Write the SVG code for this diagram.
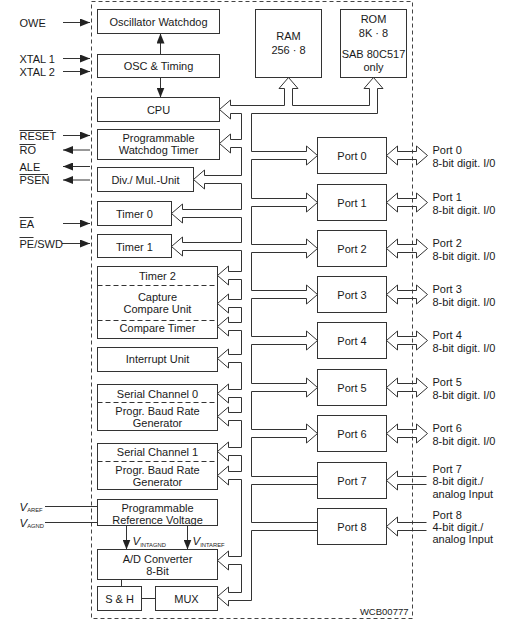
<svg xmlns="http://www.w3.org/2000/svg" width="510" height="628" viewBox="0 0 510 628">
<style>
.box{fill:#fff;stroke:#333;stroke-width:1}
.t{font-family:"Liberation Sans",Arial,Helvetica,sans-serif;font-size:11px;fill:#1a1a1a}
.c{text-anchor:middle}
.sm{font-size:9.5px}
.vi{font-style:italic;font-size:11.5px}
.sub{font-size:5.8px}
.ln{fill:none;stroke:#333;stroke-width:1}
.dash{fill:none;stroke:#333;stroke-width:1;stroke-dasharray:5 3}
.frame{fill:none;stroke:#444;stroke-width:1;stroke-dasharray:4 3}
.sig{fill:none;stroke:#333;stroke-width:1;marker-end:url(#ah)}
</style>
<defs>
<marker id="ah" markerUnits="userSpaceOnUse" markerWidth="10" markerHeight="8" refX="10" refY="4" orient="auto">
<path d="M0,0 L10,4 L0,8 z" fill="#222"/>
</marker>
</defs>
<rect x="0" y="0" width="510" height="628" fill="#fff"/>
<rect class="frame" x="91.5" y="1.5" width="321" height="617"/>

<g id="connectors">
<path class="ln" d="M288.5,77.5 L298,88.5 L292.5,88.5 L292.5,105.5 L369.5,105.5 L369.5,88.5 L364,88.5 L373.5,77.5 L383,88.5 L377.5,88.5 L377.5,113.5 L251.5,113.5
V151.5 H306.5 V146 L317.5,155.5 L306.5,165 V159.5 H251.5
V198.5 H306.5 V193 L317.5,202.5 L306.5,212 V206.5 H251.5
V244.5 H306.5 V239 L317.5,248.5 L306.5,258 V252.5 H251.5
V290.5 H306.5 V285 L317.5,294.5 L306.5,304 V298.5 H251.5
V336.5 H306.5 V331 L317.5,340.5 L306.5,350 V344.5 H251.5
V383.5 H306.5 V378 L317.5,387.5 L306.5,397 V391.5 H251.5
V429.5 H306.5 V424 L317.5,433.5 L306.5,443 V437.5 H251.5
V476.5 H317.5 M317.5,484.5 H251.5
V522.5 H317.5 M317.5,530.5 H251.5
V600.5 H228.5 V606 L217.5,596.5 L228.5,587 V592.5 H241.5
V564.5 H228.5 V570 L217.5,560.5 L228.5,551 V556.5 H241.5
V479.5 H228.5 V485 L217.5,475.5 L228.5,466 V471.5 H241.5
V455.5 H228.5 V461 L217.5,451.5 L228.5,442 V447.5 H241.5
V420.5 H228.5 V426 L217.5,416.5 L228.5,407 V412.5 H241.5
V397.5 H228.5 V403 L217.5,393.5 L228.5,384 V389.5 H241.5
V362.5 H228.5 V368 L217.5,358.5 L228.5,349 V354.5 H241.5
V330.5 H228.5 V336 L217.5,326.5 L228.5,317 V322.5 H241.5
V307.5 H228.5 V313 L217.5,303.5 L228.5,294 V299.5 H241.5
V279.5 H228.5 V285 L217.5,275.5 L228.5,266 V271.5 H241.5
V250.5 H182.5 V256 L171.5,246.5 L182.5,237 V242.5 H241.5
V217.5 H182.5 V223 L171.5,213.5 L182.5,204 V209.5 H241.5
V183.5 H204.5 V189 L193.5,179.5 L204.5,170 V175.5 H241.5
V147.5 H230.5 V153 L219.5,143.5 L230.5,134 V139.5 H241.5
V113.5 H230.5 V119 L219.5,109.5 L230.5,100 V105.5 H284.5 V88.5 H279 L288.5,77.5"/>
<!-- bidirectional port arrows -->
<path class="ln" d="M386.5,155.5 L397.5,146 V151.5 H416.5 V146 L427.5,155.5 L416.5,165 V159.5 H397.5 V165 Z"/>
<path class="ln" d="M386.5,202.5 L397.5,193 V198.5 H416.5 V193 L427.5,202.5 L416.5,212 V206.5 H397.5 V212 Z"/>
<path class="ln" d="M386.5,248.5 L397.5,239 V244.5 H416.5 V239 L427.5,248.5 L416.5,258 V252.5 H397.5 V258 Z"/>
<path class="ln" d="M386.5,294.5 L397.5,285 V290.5 H416.5 V285 L427.5,294.5 L416.5,304 V298.5 H397.5 V304 Z"/>
<path class="ln" d="M386.5,340.5 L397.5,331 V336.5 H416.5 V331 L427.5,340.5 L416.5,350 V344.5 H397.5 V350 Z"/>
<path class="ln" d="M386.5,387.5 L397.5,378 V383.5 H416.5 V378 L427.5,387.5 L416.5,397 V391.5 H397.5 V397 Z"/>
<path class="ln" d="M386.5,433.5 L397.5,424 V429.5 H416.5 V424 L427.5,433.5 L416.5,443 V437.5 H397.5 V443 Z"/>
<path class="ln" d="M426.5,476.5 H397.5 V471 L386.5,480.5 L397.5,490 V484.5 H426.5"/>
<path class="ln" d="M426.5,522.5 H397.5 V517 L386.5,526.5 L397.5,536 V530.5 H426.5"/>
<!-- external signals -->
<line class="sig" x1="63" y1="22.5" x2="90" y2="22.5"/>
<line class="sig" x1="63" y1="58.5" x2="90" y2="58.5"/>
<line class="sig" x1="63" y1="71.5" x2="90" y2="71.5"/>
<line class="sig" x1="63" y1="135.5" x2="90" y2="135.5"/>
<line class="sig" x1="90" y1="150" x2="63" y2="150"/>
<line class="sig" x1="90" y1="166.5" x2="63" y2="166.5"/>
<line class="sig" x1="90" y1="180" x2="63" y2="180"/>
<line class="sig" x1="63" y1="223.5" x2="90" y2="223.5"/>
<line class="sig" x1="62" y1="243.5" x2="90" y2="243.5"/>
<line class="ln" x1="45" y1="506.5" x2="97.5" y2="506.5"/>
<line class="ln" x1="45" y1="522.5" x2="97.5" y2="522.5"/>
<!-- internal -->
<line class="sig" x1="160.5" y1="54.5" x2="160.5" y2="33.5"/>
<line class="sig" x1="160.5" y1="77.5" x2="160.5" y2="97.5"/>
<line class="sig" x1="126.5" y1="525.5" x2="126.5" y2="549.5"/>
<line class="sig" x1="187.5" y1="525.5" x2="187.5" y2="549.5"/>
<line class="ln" x1="121.5" y1="579.5" x2="121.5" y2="586.5"/>
<line class="ln" x1="141.5" y1="598.5" x2="155.5" y2="598.5"/>
</g>

<g id="labels-left">
<text class="t" x="19.5" y="27">OWE</text>
<text class="t" x="19.5" y="62.5">XTAL 1</text>
<text class="t" x="19.5" y="75.5">XTAL 2</text>
<text class="t" x="19.5" y="140">RESET</text>
<line class="ln" x1="19.5" y1="130.5" x2="53" y2="130.5"/>
<text class="t" x="19.5" y="154">RO</text>
<line class="ln" x1="19.5" y1="144.5" x2="35.5" y2="144.5"/>
<text class="t" x="19.5" y="170.5">ALE</text>
<text class="t" x="19.5" y="184">PSEN</text>
<line class="ln" x1="19.5" y1="174.5" x2="48" y2="174.5"/>
<text class="t" x="19.5" y="227.5">EA</text>
<line class="ln" x1="19.5" y1="217.5" x2="33.5" y2="217.5"/>
<text class="t" x="19.5" y="247.5">PE/SWD</text>
<line class="ln" x1="19.5" y1="237.5" x2="33.5" y2="237.5"/>
<text class="t" x="19.5" y="510.5"><tspan class="vi">V</tspan><tspan class="sub" dy="1.5">AREF</tspan></text>
<text class="t" x="19.5" y="526.5"><tspan class="vi">V</tspan><tspan class="sub" dy="1.5">AGND</tspan></text>
<text class="t" x="132.5" y="545"><tspan class="vi">V</tspan><tspan class="sub" dy="1.5">INTAGND</tspan></text>
<text class="t" x="192.5" y="545"><tspan class="vi">V</tspan><tspan class="sub" dy="1.5">INTAREF</tspan></text>
</g>

<g id="oscillator-watchdog"><rect class="box" x="97.5" y="9.5" width="122" height="24"/><text class="t c" x="158.5" y="25.5">Oscillator Watchdog</text></g>
<g id="osc-timing"><rect class="box" x="97.5" y="54.5" width="122" height="23"/><text class="t c" x="158.5" y="70">OSC &amp; Timing</text></g>
<g id="cpu"><rect class="box" x="97.5" y="97.5" width="122" height="24"/><text class="t c" x="158.5" y="113.5">CPU</text></g>
<g id="watchdog-timer"><rect class="box" x="97.5" y="129.5" width="122" height="30"/><text class="t c" x="158.5" y="141.5">Programmable</text><text class="t c" x="158.5" y="153.5">Watchdog Timer</text></g>
<g id="div-mul-unit"><rect class="box" x="97.5" y="167.5" width="96" height="24"/><text class="t c" x="145.5" y="183.5">Div./ Mul.-Unit</text></g>
<g id="timer0"><rect class="box" x="97.5" y="201.5" width="74" height="24"/><text class="t c" x="134.5" y="217.5">Timer 0</text></g>
<g id="timer1"><rect class="box" x="97.5" y="234.5" width="74" height="23"/><text class="t c" x="134.5" y="250.5">Timer 1</text></g>
<g id="timer2-ccu"><rect class="box" x="97.5" y="266.5" width="120" height="72"/>
<line class="dash" x1="97.5" y1="285.5" x2="217.5" y2="285.5"/><line class="dash" x1="97.5" y1="320.5" x2="217.5" y2="320.5"/>
<text class="t c" x="157.5" y="279.5">Timer 2</text><text class="t c" x="157.5" y="300.5">Capture</text><text class="t c" x="157.5" y="312.5">Compare Unit</text><text class="t c" x="157.5" y="331.5">Compare Timer</text></g>
<g id="interrupt-unit"><rect class="box" x="97.5" y="347.5" width="120" height="24"/><text class="t c" x="157.5" y="363">Interrupt Unit</text></g>
<g id="serial-channel-0"><rect class="box" x="97.5" y="384.5" width="120" height="46"/><line class="dash" x1="97.5" y1="402.5" x2="217.5" y2="402.5"/>
<text class="t c" x="157.5" y="397.5">Serial Channel 0</text><text class="t c" x="157.5" y="415">Progr. Baud Rate</text><text class="t c" x="157.5" y="426.5">Generator</text></g>
<g id="serial-channel-1"><rect class="box" x="97.5" y="443.5" width="120" height="46"/><line class="dash" x1="97.5" y1="461.5" x2="217.5" y2="461.5"/>
<text class="t c" x="157.5" y="456">Serial Channel 1</text><text class="t c" x="157.5" y="474">Progr. Baud Rate</text><text class="t c" x="157.5" y="485.5">Generator</text></g>
<g id="ref-voltage"><rect class="box" x="97.5" y="499.5" width="120" height="26"/><text class="t c" x="157.5" y="511.5">Programmable</text><text class="t c" x="157.5" y="523.5">Reference Voltage</text></g>
<g id="adc"><rect class="box" x="97.5" y="549.5" width="120" height="30"/><text class="t c" x="157.5" y="562.5">A/D Converter</text><text class="t c" x="157.5" y="575">8-Bit</text></g>
<g id="sample-hold"><rect class="box" x="97.5" y="586.5" width="44" height="24"/><text class="t c" x="119.5" y="602.5">S &amp; H</text></g>
<g id="mux"><rect class="box" x="155.5" y="586.5" width="62" height="24"/><text class="t c" x="186.5" y="602.5">MUX</text></g>
<g id="ram"><rect class="box" x="255.5" y="9.5" width="66" height="68"/><text class="t c" x="288.5" y="40">RAM</text><text class="t c" x="288.5" y="53.5">256 · 8</text></g>
<g id="rom"><rect class="box" x="340.5" y="9.5" width="66" height="68"/><text class="t c" x="373.5" y="23">ROM</text><text class="t c" x="373.5" y="36.5">8K · 8</text><text class="t c" x="373.5" y="57.5">SAB 80C517</text><text class="t c" x="373.5" y="70.5">only</text></g>

<g id="port0"><rect class="box" x="317.5" y="137.5" width="69" height="36"/><text class="t c" x="352" y="159.5">Port 0</text></g>
<g id="port1"><rect class="box" x="317.5" y="184.5" width="69" height="36"/><text class="t c" x="352" y="206.5">Port 1</text></g>
<g id="port2"><rect class="box" x="317.5" y="230.5" width="69" height="36"/><text class="t c" x="352" y="252.5">Port 2</text></g>
<g id="port3"><rect class="box" x="317.5" y="276.5" width="69" height="36"/><text class="t c" x="352" y="298.5">Port 3</text></g>
<g id="port4"><rect class="box" x="317.5" y="322.5" width="69" height="36"/><text class="t c" x="352" y="344.5">Port 4</text></g>
<g id="port5"><rect class="box" x="317.5" y="369.5" width="69" height="36"/><text class="t c" x="352" y="391.5">Port 5</text></g>
<g id="port6"><rect class="box" x="317.5" y="415.5" width="69" height="36"/><text class="t c" x="352" y="437.5">Port 6</text></g>
<g id="port7"><rect class="box" x="317.5" y="462.5" width="69" height="36"/><text class="t c" x="352" y="484.5">Port 7</text></g>
<g id="port8"><rect class="box" x="317.5" y="508.5" width="69" height="36"/><text class="t c" x="352" y="530.5">Port 8</text></g>

<g id="labels-right">
<text class="t" x="432.5" y="154">Port 0</text><text class="t" x="432.5" y="166.5">8-bit digit. I/0</text>
<text class="t" x="432.5" y="201">Port 1</text><text class="t" x="432.5" y="213.5">8-bit digit. I/0</text>
<text class="t" x="432.5" y="247">Port 2</text><text class="t" x="432.5" y="259.5">8-bit digit. I/0</text>
<text class="t" x="432.5" y="293">Port 3</text><text class="t" x="432.5" y="305.5">8-bit digit. I/0</text>
<text class="t" x="432.5" y="339">Port 4</text><text class="t" x="432.5" y="351.5">8-bit digit. I/0</text>
<text class="t" x="432.5" y="386">Port 5</text><text class="t" x="432.5" y="398.5">8-bit digit. I/0</text>
<text class="t" x="432.5" y="432">Port 6</text><text class="t" x="432.5" y="444.5">8-bit digit. I/0</text>
<text class="t" x="432.5" y="472.5">Port 7</text><text class="t" x="432.5" y="485">8-bit digit./</text><text class="t" x="432.5" y="497.5">analog Input</text>
<text class="t" x="432.5" y="518.5">Port 8</text><text class="t" x="432.5" y="530.5">4-bit digit./</text><text class="t" x="432.5" y="542.5">analog Input</text>
<text class="t sm" x="408.5" y="614.5" text-anchor="end">WCB00777</text>
</g>
</svg>
